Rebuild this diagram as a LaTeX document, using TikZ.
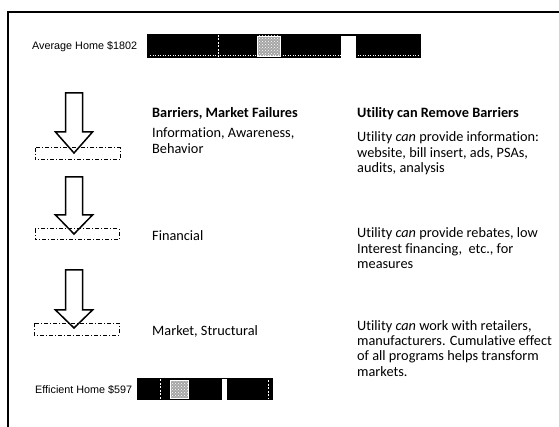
\documentclass[tikz,border=0pt]{standalone}
\usepackage{fontspec}
\setmainfont{Carlito}[Ligatures=NoCommon]
\newfontfamily\labelfont{Liberation Sans}
\usetikzlibrary{patterns}

\tikzset{
  frameline/.style={line width=2.4pt},
  divider/.style={white, line width=1pt, dash pattern=on 2pt off 1.5pt},
  speckle/.style={fill=gray!70, draw=white, line width=0.8pt,
    postaction={pattern=crosshatch dots, pattern color=white}},
  blockarrow/.style={draw=black, fill=white, line width=1.5pt, line join=miter},
  gapbox/.style={draw=black, line width=1pt, dash pattern=on 4pt off 2pt on 1pt off 2pt},
  homelabel/.style={anchor=base west, inner sep=0pt, font={\labelfont\fontsize{10.8}{12}\selectfont}},
  % base of a multi-line node sits on its last line
  barrier/.style={anchor=base west, inner sep=0pt, align=left, font={\fontsize{14.3}{15.3}\selectfont}},
  remedy/.style={barrier},
}

\begin{document}
\begin{tikzpicture}[x=1pt,y=-1pt]
  \useasboundingbox (0,0) rectangle (559,427);
  % page frame, top and left edges
  \draw[frameline] (559,12) -- (8,12) -- (8,427);

  % cost bar, average home
  \node[homelabel] (avglabel) at (32,50) {Average Home \$1802};
  \fill (147,34) rectangle (421,58);
  \draw[divider] (218,35) -- (218,57);
  \draw[speckle] (257,36) rectangle (280,56);
  \fill[white] (341,36) rectangle (356,58);
  \draw[white, dotted, line width=0.5pt] (150,55) -- (418,55);

  % three barrier steps
  \draw[blockarrow] (65.5,93) -- (82.5,93) -- (82.5,132) -- (92.5,132) -- (74,153) -- (55.5,132) -- (65.5,132) -- cycle;
  \draw[gapbox] (35,148) rectangle (120,160);
  \draw[blockarrow] (65.5,177) -- (82.5,177) -- (82.5,215) -- (92.5,215) -- (74,234) -- (55.5,215) -- (65.5,215) -- cycle;
  \draw[gapbox] (35,229) rectangle (119,240);
  \draw[blockarrow] (65.5,270) -- (82.5,270) -- (82.5,310) -- (92.5,310) -- (74,328) -- (55.5,310) -- (65.5,310) -- cycle;
  \draw[gapbox] (34,323) rectangle (119,335);

  \node[barrier] (barhead) at (152,118) {\textbf{Barriers, Market Failures}};
  \node[barrier] (info) at (152,153.3) {Information, Awareness,\\Behavior};
  \node[barrier] (finance) at (152,241) {Financial};
  \node[barrier] (market) at (152,335) {Market, Structural};

  \node[remedy] (remhead) at (357,118) {\textbf{Utility can Remove Barriers}};
  \node[remedy] (reminfo) at (357,172.6) {Utility \emph{can} provide information:\\website, bill insert, ads, PSAs,\\audits, analysis};
  \node[remedy] (remfinance) at (357,268.6) {Utility \emph{can} provide rebates, low\\Interest financing,\ \ etc., for\\measures};
  \node[remedy] (remmarket) at (357,376) {Utility \emph{can} work with retailers,\\manufacturers. Cumulative effect\\of all programs helps transform\\markets.};

  % cost bar, efficient home
  \node[homelabel] (efflabel) at (35,393) {Efficient Home \$597};
  \fill (137,378) rectangle (273,400);
  \draw[divider] (160,379) -- (160,399);
  \draw[speckle] (170,380) rectangle (188,398);
  \fill[white] (222,379) rectangle (227,400);
  \draw[divider] (268,380) -- (268,399);
\end{tikzpicture}
\end{document}
